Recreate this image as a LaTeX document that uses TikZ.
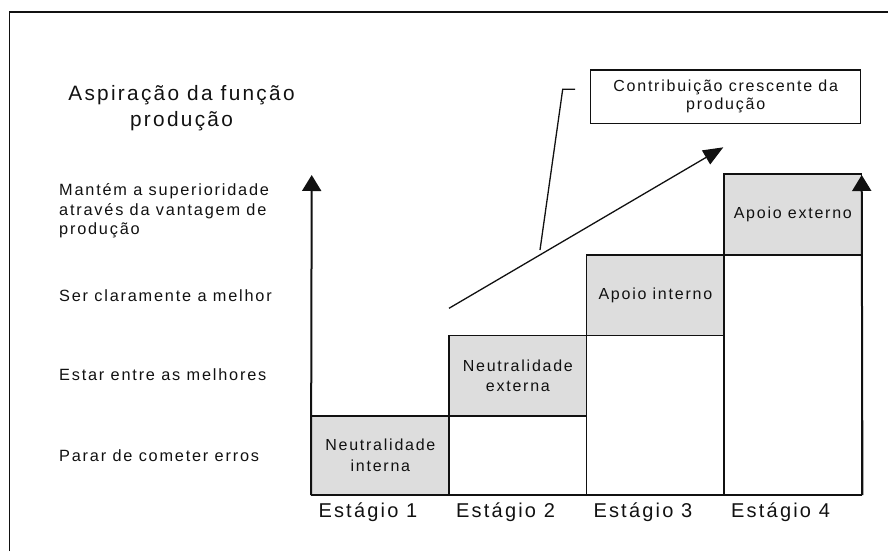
\documentclass[tikz,border=0pt]{standalone}
\usepackage{fontspec}
\setmainfont{Liberation Sans}[LetterSpace=11]
\usetikzlibrary{arrows.meta}
\definecolor{stepgray}{HTML}{DDDDDD}
\definecolor{inkc}{HTML}{111111}
\begin{document}
\begin{tikzpicture}[x=1pt,y=-1pt,
  lbl/.style={inner sep=0pt, text=inkc, font=\fontsize{16.3}{19.5}\selectfont},
  biglbl/.style={inner sep=0pt, text=inkc, font=\fontsize{20.8}{24}\selectfont},
  stagelbl/.style={inner sep=0pt, text=inkc, font=\fontsize{20}{24}\selectfont},
  stepbox/.style={draw=inkc, line width=1.4pt, inner sep=0pt, align=center, text=inkc,
    font=\fontsize{16}{20.5}\selectfont},
  graystep/.style={stepbox, fill=stepgray},
  axisline/.style={draw=inkc, line width=2pt, -{Triangle[length=16pt,width=19pt]}},
  thinline/.style={draw=inkc, line width=1.3pt},
  arrowline/.style={draw=inkc, line width=1.3pt, -{Triangle[length=20pt,width=16pt]}}
]
\useasboundingbox (0,0) rectangle (888,551);
% frame
\coordinate (fb) at (9.5,551);
\coordinate (fc) at (9.5,12);
\coordinate (fr) at (888,12);
\draw[thinline] (fb) -- (fc) -- (fr);

% title
\node[biglbl, anchor=base] (t1) at (181.5,100) {Aspiração da função};
\node[biglbl, anchor=base] (t2) at (181.5,126) {produção};

% left labels
\node[lbl, anchor=base west] (a1) at (59,195.5) {Mantém a superioridade};
\node[lbl, anchor=base west] (a2) at (59,215) {através da vantagem de};
\node[lbl, anchor=base west] (a3) at (59,234.5) {produção};
\node[lbl, anchor=base west] (b1) at (59,301.7) {Ser claramente a melhor};
\node[lbl, anchor=base west] (c1) at (59,380) {Estar entre as melhores};
\node[lbl, anchor=base west] (d1) at (59,461) {Parar de cometer erros};

% white lower boxes
\node[stepbox, minimum width=137.7pt, minimum height=78.3pt] (w2) at (517.85,455.15) {};
\node[stepbox, minimum width=137.3pt, minimum height=159pt] (w3) at (655.35,414.8) {};
\node[stepbox, minimum width=137.7pt, minimum height=239.3pt] (w4) at (792.85,374.65) {};

% gray boxes
\node[graystep, minimum width=137.3pt, minimum height=78.3pt] (g1) at (380.35,455.15) {Neutralidade\\interna};
\node[graystep, minimum width=137.7pt, minimum height=80.7pt] (g2) at (517.85,375.65) {Neutralidade\\externa};
\node[graystep, minimum width=137.3pt, minimum height=80.3pt] (g3) at (655.35,295.15) {Apoio interno};
\node[graystep, minimum width=137.7pt, minimum height=81pt] (g4) at (792.85,214.5) {Apoio externo};

% axes and base line
\coordinate (ltop) at (311.7,175);
\coordinate (rtop) at (861.7,175);
\draw[draw=inkc, line width=2pt] (g1.south west) -- (w4.south east);
\draw[axisline] (g1.south west) -- (ltop);
\draw[axisline] (w4.south east) -- (rtop);

% stage labels
\node[stagelbl, anchor=base west] (s1) at (318.3,517.3) {Estágio 1};
\node[stagelbl, anchor=base west] (s2) at (456,517.3) {Estágio 2};
\node[stagelbl, anchor=base west] (s3) at (593.3,517.3) {Estágio 3};
\node[stagelbl, anchor=base west] (s4) at (731,517.3) {Estágio 4};

% rising arrow
\coordinate (ds) at (449,308.3);
\coordinate (de) at (723.3,147.3);
\draw[arrowline] (ds) -- (de);

% callout
\node[draw=inkc, line width=1.3pt, minimum width=270pt, minimum height=53.3pt, inner sep=0pt,
  align=center, text=inkc, font=\fontsize{16}{18.3}\selectfont] (call) at (725.7,96.7)
  {Contribuição crescente da\\produção};
\coordinate (lk) at (575,89.3);
\coordinate (lb) at (562.7,89.3);
\coordinate (le) at (540,250);
\draw[thinline] (lk) -- (lb) -- (le);
\end{tikzpicture}
\end{document}
